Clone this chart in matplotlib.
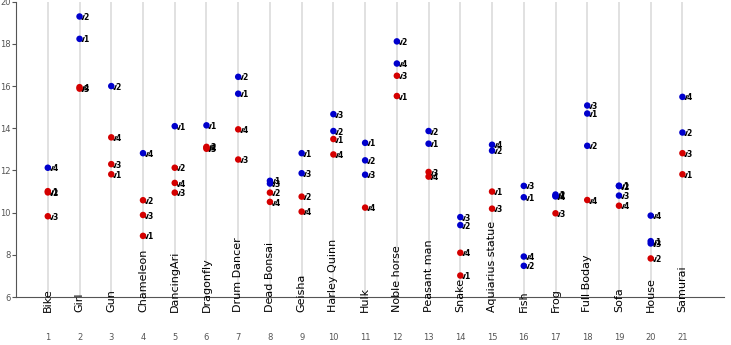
import numpy as np
import matplotlib
matplotlib.use("Agg")
import matplotlib.pyplot as plt

categories = ["Bike", "Girl", "Gun", "Chameleon", "DancingAri", "Dragonfly",
              "Drum Dancer", "Dead Bonsai", "Geisha", "Harley Quinn", "Hulk",
              "Noble horse", "Peasant man", "Snake", "Aquiarius statue", "Fish",
              "Frog", "Full Boday", "Sofa", "House", "Samurai"]

# blue points: category number, label, value
blue_cat = [1, 2, 2, 3, 4, 5, 6, 7, 7, 8, 8, 9, 9, 10, 10, 11, 11, 11, 12, 12,
            13, 13, 14, 14, 15, 15, 16, 16, 16, 16, 17, 17, 17, 18, 18, 18,
            19, 19, 19, 20, 20, 20, 21, 21]
blue_lbl = ["v4", "v2", "v1", "v2", "v4", "v1", "v1", "v2", "v1", "v1", "v3",
            "v1", "v3", "v3", "v2", "v1", "v2", "v3", "v2", "v4", "v2", "v1",
            "v3", "v2", "v4", "v2", "v3", "v1", "v4", "v2", "v2", "v1", "v4",
            "v3", "v1", "v2", "v1", "v2", "v3", "v4", "v1", "v3", "v4", "v2"]
blue_val = [12.13, 19.30, 18.24, 16.00, 12.82, 14.10, 14.14, 16.44, 15.64,
            11.51, 11.38, 12.82, 11.87, 14.67, 13.87, 13.31, 12.48, 11.80,
            18.12, 17.07, 13.87, 13.27, 9.79, 9.41, 13.22, 12.94, 11.27, 10.73,
            7.92, 7.48, 10.86, 10.80, 10.77, 15.08, 14.70, 13.17, 11.28, 11.26,
            10.81, 9.86, 8.65, 8.54, 15.49, 13.80]

# red points
red_cat = [1, 1, 1, 2, 2, 3, 3, 3, 4, 4, 4, 5, 5, 5, 6, 6, 6, 7, 7, 8, 8, 9, 9,
           10, 10, 11, 12, 12, 13, 13, 14, 14, 15, 15, 17, 18, 19, 20, 21, 21]
red_lbl = ["v1", "v2", "v3", "v4", "v3", "v4", "v3", "v1", "v2", "v3", "v1",
           "v2", "v4", "v3", "v2", "v4", "v3", "v4", "v3", "v2", "v4", "v2",
           "v4", "v1", "v4", "v4", "v3", "v1", "v3", "v4", "v4", "v1", "v1",
           "v3", "v3", "v4", "v4", "v2", "v3", "v1"]
red_val = [11.02, 10.96, 9.83, 15.95, 15.88, 13.57, 12.30, 11.82, 10.59, 9.89,
           8.90, 12.13, 11.41, 10.95, 13.12, 13.08, 13.03, 13.95, 12.52, 10.95,
           10.51, 10.76, 10.05, 13.49, 12.76, 10.24, 16.49, 15.53, 11.93, 11.71,
           8.10, 7.02, 11.00, 10.19, 9.97, 10.60, 10.33, 7.83, 12.82, 11.82]

fig = plt.figure(figsize=(7.31, 3.45), dpi=100)
ax = fig.add_axes([0.022, 0.139, 0.968, 0.856])

xs = np.arange(1, len(categories) + 1)
for x in xs:
    ax.axvline(x, color="#dcdcdc", lw=1.2, zorder=0)

for cat, lbl, val, col in [(blue_cat, blue_lbl, blue_val, "#0000cc"),
                           (red_cat, red_lbl, red_val, "#d40000")]:
    ax.scatter(cat, val, s=22, color=col, edgecolors="none", zorder=3)
    for c, l, v in zip(cat, lbl, val):
        ax.annotate(l, (c, v), xytext=(0.5, -0.8), textcoords="offset points",
                    fontsize=5.5, fontweight="bold", va="center", ha="left",
                    zorder=2)

for x, name in zip(xs, categories):
    ax.text(x, 5.29, name, rotation=90, ha="center", va="bottom", fontsize=8,
            clip_on=False)

ax.set_xlim(0, 22.3)
ax.set_ylim(6, 20)
ax.set_xticks(xs)
ax.set_xticklabels([str(x) for x in xs])
ax.set_yticks(np.arange(6, 21, 2))
ax.tick_params(axis="x", length=0, pad=26, labelsize=6, labelcolor="#555555")
ax.tick_params(axis="y", length=3, pad=1, labelsize=6, labelcolor="#555555",
               color="#555555")
ax.spines["top"].set_visible(False)
ax.spines["right"].set_visible(False)
ax.spines["left"].set_color("#555555")
ax.spines["bottom"].set_color("#555555")

fig.savefig("out.png", dpi=100)
